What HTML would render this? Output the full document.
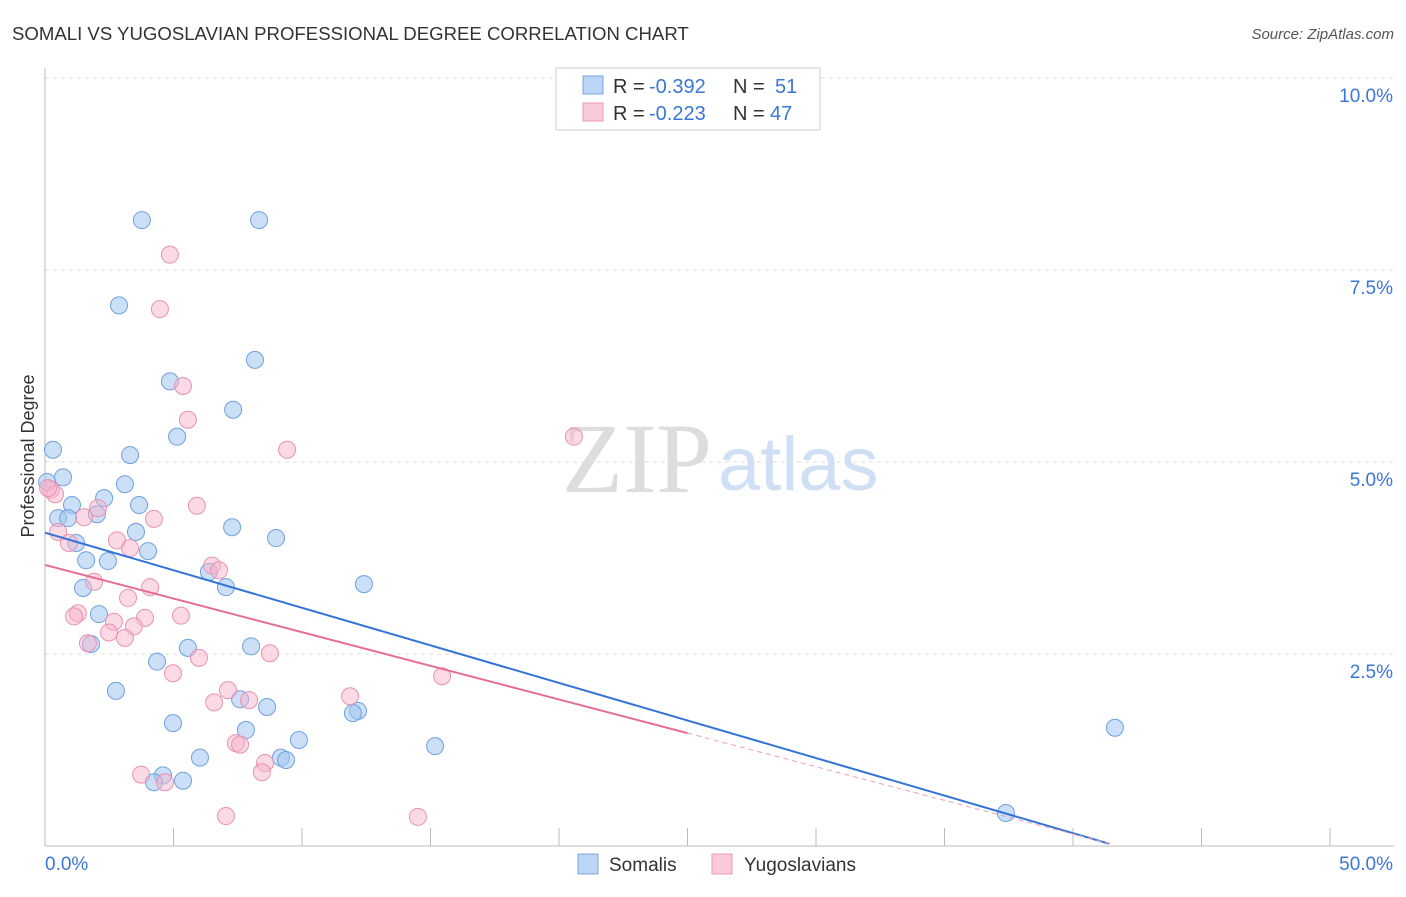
<!DOCTYPE html>
<html><head><meta charset="utf-8"><style>
body{margin:0;background:#fff;font-family:"Liberation Sans",sans-serif}
svg text{font-family:"Liberation Sans",sans-serif}
</style></head><body>
<svg id="c" width="1406" height="892">
<text x="12" y="40" font-size="18.6" fill="#333">SOMALI VS YUGOSLAVIAN PROFESSIONAL DEGREE CORRELATION CHART</text>
<text x="1394" y="39" font-size="15" fill="#555" font-style="italic" text-anchor="end">Source: ZipAtlas.com</text>
<text x="712" y="492" font-size="100" fill="#ddd" text-anchor="end" style="font-family:'Liberation Serif',serif">ZIP</text>
<text x="718" y="490" font-size="76" fill="#cfe0f5">atlas</text>
<text x="34" y="456" font-size="18" fill="#333" text-anchor="middle" transform="rotate(-90 34 456)">Professional Degree</text>
<g id="grid"></g><g id="pts"></g><g id="lines"></g>
<g>
<rect x="556" y="68" width="264" height="62" fill="#fff" stroke="#ccc"/>
<rect x="583" y="76" width="20" height="18" fill="#bcd4f5" stroke="#7aa6e0"/>
<rect x="583" y="103" width="20" height="18" fill="#fbcada" stroke="#eb9ab6"/>
<text x="613" y="93" font-size="20" fill="#333">R =</text><text x="649" y="93" font-size="20" fill="#3a76d8">-0.392</text>
<text x="733" y="93" font-size="20" fill="#333">N =</text><text x="775" y="93" font-size="20" fill="#3a76d8">51</text>
<text x="613" y="120" font-size="20" fill="#333">R =</text><text x="649" y="120" font-size="20" fill="#3a76d8">-0.223</text>
<text x="733" y="120" font-size="20" fill="#333">N =</text><text x="770" y="120" font-size="20" fill="#3a76d8">47</text>
</g>
<g>
<rect x="578" y="854" width="20" height="20" fill="#bcd4f5" stroke="#7aa6e0"/>
<text x="609" y="871" font-size="19" fill="#333">Somalis</text>
<rect x="712" y="854" width="20" height="20" fill="#fbcada" stroke="#eb9ab6"/>
<text x="744" y="871" font-size="19" fill="#333">Yugoslavians</text>
</g>
</svg>
<script>
const yTicks=[2.5,5.0,7.5,10.0];
const xLabels=["0.0%","50.0%"];
const somaliX=[3.77,8.33,2.88,8.17,4.86,7.32,5.14,0.31,3.31,0.70,0.08,3.11,2.30,1.05,3.66,2.02,0.51,0.90,7.28,3.54,8.99,1.21,4.01,1.60,2.45,6.38,7.04,12.41,1.48,2.10,1.79,5.56,8.02,4.36,2.76,7.59,8.64,12.18,11.98,4.98,7.82,9.88,15.18,6.03,9.18,9.38,41.63,4.59,4.24,5.37,37.39];
const somaliY=[8.15,8.15,7.04,6.33,6.05,5.68,5.33,5.16,5.09,4.80,4.74,4.71,4.53,4.44,4.44,4.32,4.27,4.27,4.15,4.09,4.01,3.945,3.84,3.72,3.71,3.57,3.37,3.41,3.36,3.02,2.63,2.58,2.60,2.40,2.02,1.91,1.81,1.76,1.73,1.60,1.51,1.38,1.30,1.15,1.15,1.12,1.54,0.92,0.83,0.85,0.43];
const yugoX=[4.86,4.47,5.37,5.56,9.42,20.58,0.23,0.39,2.06,1.52,5.91,4.24,0.51,2.80,0.93,3.31,6.50,6.77,1.91,4.09,3.23,1.28,1.13,5.29,3.89,2.68,3.46,2.49,3.11,1.67,8.75,5.99,4.98,15.45,7.12,11.87,6.58,7.94,7.43,7.59,8.56,8.44,3.74,4.67,7.04,14.51,0.12];
const yugoY=[7.70,6.99,5.99,5.55,5.16,5.33,4.64,4.58,4.40,4.28,4.43,4.26,4.09,3.98,3.945,3.88,3.65,3.59,3.44,3.37,3.23,3.03,2.99,3.00,2.97,2.92,2.86,2.78,2.71,2.64,2.51,2.45,2.25,2.21,2.03,1.95,1.87,1.90,1.34,1.32,1.08,0.96,0.93,0.83,0.39,0.38,4.66];
const somaliTrend=[4.08,0.03],somaliTrendX=[0,41.4];
const yugoTrend=[3.66,1.47],yugoTrendX=[0,25];
const X=v=>45+v/50*1285, Y=v=>846-v/2.5*192;
const NS="http://www.w3.org/2000/svg";
function mk(t,a,p){const e=document.createElementNS(NS,t);for(const k in a)e.setAttribute(k,a[k]);p.appendChild(e);return e;}
const g=document.getElementById('grid');
yTicks.forEach(t=>{const l=mk('line',{x1:45,x2:1394,y1:Y(t),y2:Y(t),stroke:'#ddd','stroke-dasharray':'4,4'},g);


const tx=mk('text',{x:1393,y:Y(t)+24,'font-size':19,fill:'#3a76d8','text-anchor':'end'},g);tx.textContent=t.toFixed(1)+'%';

});
const ax=mk('line',{x1:45,x2:45,y1:68,y2:846,stroke:'#bbb'},g);


const bx=mk('line',{x1:45,x2:1394,y1:846,y2:846,stroke:'#bbb'},g);


for(let i=0;i<=10;i++){const t=mk('line',{x1:X(i*5),x2:X(i*5),y1:828,y2:846,stroke:'#bbb'},g);

}
[[xLabels[0],45,'start'],[xLabels[1],1393,'end']].forEach(([s,x,a])=>{const t=mk('text',{x:x,y:870,'font-size':19,fill:'#3a76d8','text-anchor':a},g);t.textContent=s;

});
const p=document.getElementById('pts');
somaliX.forEach((x,i)=>{const c=mk('circle',{cx:X(x),cy:Y(somaliY[i]),r:8.5,fill:'rgba(160,196,240,0.55)',stroke:'#6fa0e0','stroke-width':1},p);

});
yugoX.forEach((x,i)=>{const c=mk('circle',{cx:X(x),cy:Y(yugoY[i]),r:8.5,fill:'rgba(248,180,204,0.5)',stroke:'#e892b2','stroke-width':1},p);

});
const L=document.getElementById('lines');
const bl=mk('line',{x1:X(somaliTrendX[0]),y1:Y(somaliTrend[0]),x2:X(somaliTrendX[1]),y2:Y(somaliTrend[1]),stroke:'#3372d6','stroke-width':2},L);


const pl=mk('line',{x1:X(yugoTrendX[0]),y1:Y(yugoTrend[0]),x2:X(yugoTrendX[1]),y2:Y(yugoTrend[1]),stroke:'#e66b97','stroke-width':2},L);


const sl=(yugoTrend[1]-yugoTrend[0])/(yugoTrendX[1]-yugoTrendX[0]);const xe=41.5;
const pd=mk('line',{x1:X(yugoTrendX[1]),y1:Y(yugoTrend[1]),x2:X(xe),y2:Y(yugoTrend[0]+sl*xe),stroke:'#e9a0b8','stroke-width':1,'stroke-dasharray':'5,4'},L);


</script>
</body></html>
